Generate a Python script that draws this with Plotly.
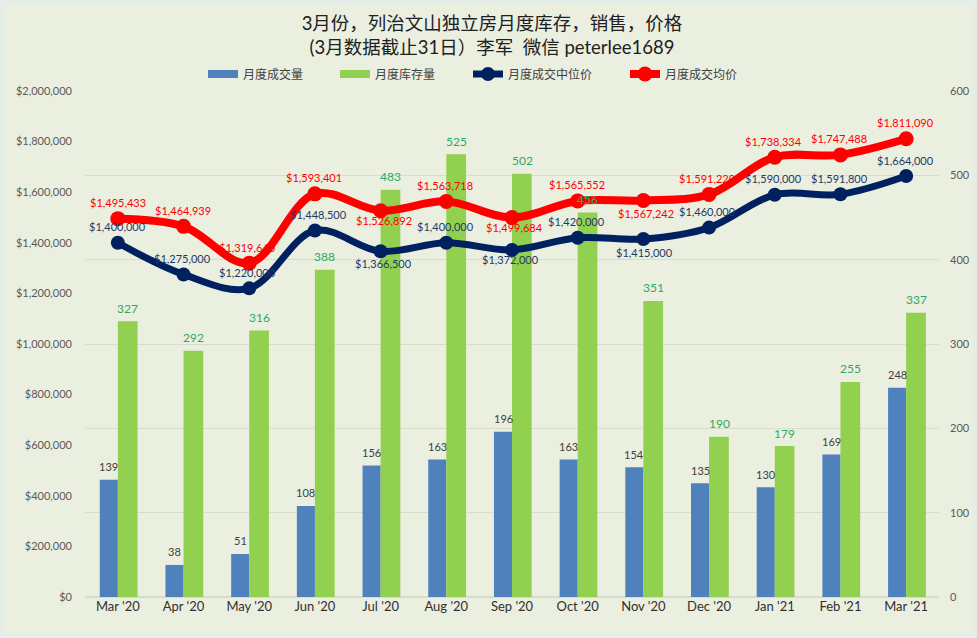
import plotly.graph_objects as go

months = ["Mar '20", "Apr '20", "May '20", "Jun '20", "Jul '20", "Aug '20", "Sep '20",
          "Oct '20", "Nov '20", "Dec '20", "Jan '21", "Feb '21", "Mar '21"]
sales = [139, 38, 51, 108, 156, 163, 196, 163, 154, 135, 130, 169, 248]
inventory = [327, 292, 316, 388, 483, 525, 502, 456, 351, 190, 179, 255, 337]
median_price = [1400000, 1275000, 1220000, 1448500, 1366500, 1400000, 1372000,
                1420000, 1415000, 1460000, 1590000, 1591800, 1664000]
mean_price = [1495433, 1464939, 1319640, 1593401, 1526892, 1563718, 1499684,
              1565552, 1567242, 1591220, 1738334, 1747488, 1811090]

# hand placed labels, pixels away from the point
mean_dy = [16, 16, 16, 16, -10, 16, -10, 16, -13, 16, 16, 16, 16]
mean_dx = [0, -1, -2, -1, 3, -1, 2, -1, 3, -2, -1, -1, -1]
median_dy = [16, 16, 16, 16, -12, 16, -10, 16, -13, 16, 16, 16, 16]
median_dx = [0, -1, -2, 4, 3, -1, -2, -1, 1, -2, -1, -1, -1]

W, H = 977, 638
L, R, T, B = 85, 38, 91, 41
BG = '#ebefe0'
EDGE = '#e4eee8'
LATIN = 'Lato, "Noto Sans CJK SC", sans-serif'
BLUE = '#4f81bd'
GREEN = '#92d050'
NAVY = '#002060'
RED = '#ff0000'
plot_w = W - L - R
plot_h = H - T - B

fig = go.Figure()
# bars go on the base axis so that the overlaying price axis draws the lines above them
fig.add_trace(go.Bar(x=months, y=sales, marker=dict(color=BLUE, line_width=0), showlegend=False,
                     width=0.275, offset=-0.275, yaxis='y'))
fig.add_trace(go.Bar(x=months, y=inventory, marker=dict(color=GREEN, line_width=0), showlegend=False,
                     width=0.3, offset=0, yaxis='y'))
fig.add_trace(go.Scatter(x=months, y=median_price, name='月度成交中位价', mode='lines+markers',
                         line=dict(color=NAVY, width=7, shape='spline'),
                         marker=dict(color=NAVY, size=14),
                         yaxis='y2', legend='legend3'))
fig.add_trace(go.Scatter(x=months, y=mean_price, name='月度成交均价', mode='lines+markers',
                         line=dict(color=RED, width=8, shape='spline'),
                         marker=dict(color=RED, size=15),
                         yaxis='y2', legend='legend4'))
# plotly's bar swatch is a small square, the original has wide flat ones
fig.add_trace(go.Scatter(x=[None], y=[None], name='月度成交量', mode='lines',
                         line=dict(color=BLUE, width=8), yaxis='y2', legend='legend'))
fig.add_trace(go.Scatter(x=[None], y=[None], name='月度库存量', mode='lines',
                         line=dict(color=GREEN, width=8), yaxis='y2', legend='legend2'))

annotations = []
for m, s, i in zip(months, sales, inventory):
    annotations.append(dict(x=m, y=s, xref='x', yref='y', text=str(s), showarrow=False,
                            xshift=-9, yshift=13, font=dict(family=LATIN, size=11, color='#404040')))
    annotations.append(dict(x=m, y=i, xref='x', yref='y', text=str(i), showarrow=False,
                            xshift=10, yshift=13, font=dict(family=LATIN, size=12, color='#2da866')))
for m, v, dx, dy in zip(months, median_price, median_dx, median_dy):
    annotations.append(dict(x=m, y=v, xref='x', yref='y2', text=f'${v:,}', showarrow=False,
                            xshift=dx, yshift=dy, font=dict(family=LATIN, size=11, color='#1f3864')))
for m, v, dx, dy in zip(months, mean_price, mean_dx, mean_dy):
    annotations.append(dict(x=m, y=v, xref='x', yref='y2', text=f'${v:,}', showarrow=False,
                            xshift=dx, yshift=dy, font=dict(family=LATIN, size=11, color=RED)))

legend_font = dict(family='"Noto Sans CJK SC"', size=12, color='#404040')


def legend_at(px):
    return dict(x=(px - L) / plot_w, xanchor='left', y=(H - B - 74) / plot_h, yanchor='middle',
                xref='paper', yref='paper', bgcolor='rgba(0,0,0,0)', font=legend_font,
                tracegroupgap=0, itemwidth=30)


fig.update_layout(
    width=W, height=H,
    margin=dict(l=L, r=R, t=T, b=B, pad=0, autoexpand=False),
    paper_bgcolor=EDGE, plot_bgcolor='rgba(0,0,0,0)',
    title=dict(text='3月份，列治文山独立房月度库存，销售，价格<br>(3月数据截止31日）李军  微信 peterlee1689',
               x=492 / W, xanchor='center', y=1 - 30 / H, yanchor='middle',
               font=dict(family='Lato, "Noto Sans CJK SC"', size=18.5, color='#202020')),
    barmode='overlay',
    showlegend=True,
    legend=legend_at(203), legend2=legend_at(335), legend3=legend_at(468), legend4=legend_at(625),
    xaxis=dict(type='category', categoryorder='array', categoryarray=months, range=[-0.5, 12.5],
               showgrid=False, showline=False, zeroline=False, ticks='', automargin=False,
               tickfont=dict(family=LATIN, size=13, color='#303030')),
    yaxis=dict(side='right', range=[0, 600], dtick=100, showgrid=True, gridcolor='#d8dccb', gridwidth=1,
               zeroline=True, zerolinecolor='#d8dccb', showline=False, ticks='', ticklabelstandoff=10,
               automargin=False, tickfont=dict(family=LATIN, size=11, color='#595959')),
    yaxis2=dict(side='left', overlaying='y', range=[0, 2000000], dtick=200000, tickformat='$,.0f',
                showgrid=False, zeroline=False, showline=False, ticks='', ticklabelstandoff=12,
                automargin=False, tickfont=dict(family=LATIN, size=11, color='#595959')),
    annotations=annotations,
    shapes=[dict(type='rect', xref='paper', yref='paper', layer='below',
                 x0=(4 - L) / plot_w, x1=(W - 4 - L) / plot_w,
                 y0=(H - B - (H - 5)) / plot_h, y1=(H - B - 4) / plot_h,
                 fillcolor=BG, line_width=0)],
)

# the page's default body margin would push the figure off the window
fig.write_html("out.html", config=dict(displayModeBar=False),
               post_script="document.body.style.margin = '0';")
